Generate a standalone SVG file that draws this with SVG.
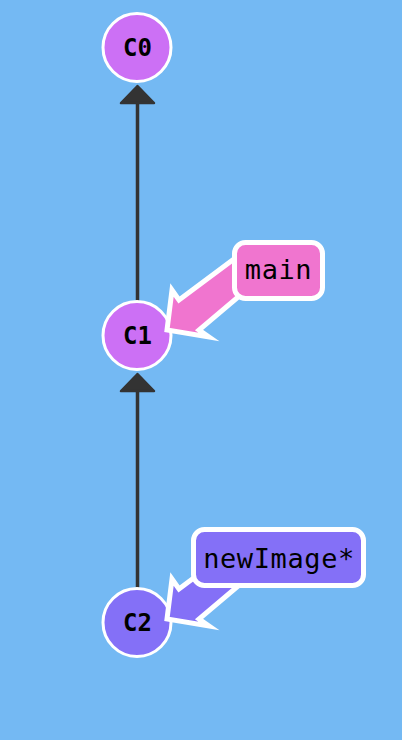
<svg xmlns="http://www.w3.org/2000/svg" width="402" height="740" viewBox="0 0 402 740">
<defs>
<style>
.bg{fill:#74b9f3}
.edge{stroke:#333;stroke-width:3.5;fill:none}
.head{fill:#333;stroke:#333;stroke-width:2.5;stroke-linejoin:round}
.node{stroke:#fff;stroke-width:3}
.nlabel{font-family:"DejaVu Sans Mono","Liberation Mono",monospace;font-weight:bold;font-size:24px;fill:#000;text-anchor:middle}
.blabel{font-family:"DejaVu Sans Mono","Liberation Mono",monospace;font-size:27px;letter-spacing:0.6px;fill:#000;text-anchor:middle}
.box{stroke:#fff;stroke-width:5}
.arrow{stroke:#fff;stroke-width:5;stroke-linejoin:miter;stroke-miterlimit:10}
</style>
</defs>
<rect class="bg" x="0" y="0" width="402" height="740"/>
<g id="connectors">
<line class="edge" x1="137.5" y1="301" x2="137.5" y2="100"/>
<polygon class="head" points="137.5,86 121,103 154,103"/>
<line class="edge" x1="137.5" y1="589" x2="137.5" y2="388"/>
<polygon class="head" points="137.5,374 121,391 154,391"/>
</g>
<g id="C0">
<circle class="node" cx="137" cy="47.5" r="34" fill="#cc70f5"/>
<text class="nlabel" x="137.5" y="56">C0</text>
</g>
<g id="C1">
<circle class="node" cx="137" cy="335.5" r="34" fill="#cc70f5"/>
<text class="nlabel" x="137.5" y="344">C1</text>
</g>
<g id="C2">
<circle class="node" cx="137" cy="622.5" r="34" fill="#8470f7"/>
<text class="nlabel" x="137.5" y="631">C2</text>
</g>
<g id="branch-main">
<polygon class="arrow" fill="#f075cf" points="167,330 172,290 179,300 238,256 250,287 199,330 209,337"/>
<rect class="box" x="234.5" y="242.5" width="88" height="56" rx="11" fill="#f075cf"/>
<text class="blabel" x="278.5" y="278.5">main</text>
</g>
<g id="branch-newImage">
<polygon class="arrow" fill="#8470f7" points="167,619 172,579 179,589 238,545 250,576 199,619 209,626"/>
<rect class="box" x="193.5" y="529.5" width="170" height="56" rx="11" fill="#8470f7"/>
<text class="blabel" x="279" y="567.5">newImage*</text>
</g>
</svg>
